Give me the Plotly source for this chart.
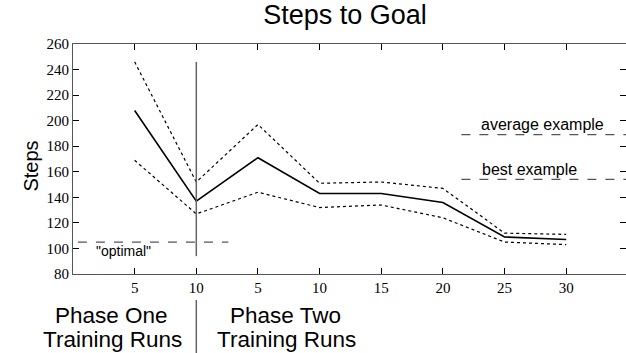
import plotly.graph_objects as go

tick_labels = ["5", "10", "5", "10", "15", "20", "25", "30"]
mean_steps = [208, 137, 171, 143, 143, 136, 109, 107]
upper_steps = [246, 152, 197, 151, 152, 147, 112, 111]
lower_steps = [169, 127, 144, 132, 134, 124, 105, 103]
optimal = 105
average_example = 189
best_example = 154

positions = list(range(1, len(tick_labels) + 1))

fig = go.Figure()
fig.add_trace(go.Scatter(x=positions, y=upper_steps, mode="lines",
                         line=dict(color="black", width=1.2, dash="dot"), hoverinfo="skip"))
fig.add_trace(go.Scatter(x=positions, y=lower_steps, mode="lines",
                         line=dict(color="black", width=1.2, dash="dot"), hoverinfo="skip"))
fig.add_trace(go.Scatter(x=positions, y=mean_steps, mode="lines",
                         line=dict(color="black", width=1.6)))

# reference lines
fig.add_trace(go.Scatter(x=[0.08, 2.52], y=[optimal, optimal], mode="lines",
                         line=dict(color="#555555", width=1.2, dash="dash")))
fig.add_trace(go.Scatter(x=[6.3, 9], y=[average_example, average_example], mode="lines",
                         line=dict(color="#555555", width=1.2, dash="dash")))
fig.add_trace(go.Scatter(x=[6.3, 9], y=[best_example, best_example], mode="lines",
                         line=dict(color="#555555", width=1.2, dash="dash")))
# phase separator inside plot
fig.add_trace(go.Scatter(x=[2, 2], y=[94, 246], mode="lines",
                         line=dict(color="#666666", width=1.5)))

fig.add_shape(type="line", xref="x", yref="paper", x0=2, x1=2, y0=-0.113, y1=-0.36,
              line=dict(color="#666666", width=1.5))

sans = "Liberation Sans"
serif = "Liberation Serif"
fig.add_annotation(x=0.82, y=optimal, yshift=-9, text='"optimal"', showarrow=False,
                   font=dict(family=sans, size=14, color="black"))
fig.add_annotation(x=6.58, xanchor="left", y=average_example, yshift=10, text="average example",
                   showarrow=False, font=dict(family=sans, size=16, color="black"))
fig.add_annotation(x=6.6, xanchor="left", y=best_example, yshift=10, text="best example",
                   showarrow=False, font=dict(family=sans, size=16, color="black"))

phase_font = dict(family=sans, size=22.5, color="black")
fig.add_annotation(x=0.62, xref="x", y=-0.18, yref="paper", yanchor="middle",
                   text="Phase One", showarrow=False, font=phase_font)
fig.add_annotation(x=0.64, xref="x", y=-0.285, yref="paper", yanchor="middle",
                   text="Training Runs", showarrow=False, font=phase_font)
fig.add_annotation(x=3.44, xref="x", y=-0.18, yref="paper", yanchor="middle",
                   text="Phase Two", showarrow=False, font=phase_font)
fig.add_annotation(x=3.47, xref="x", y=-0.285, yref="paper", yanchor="middle",
                   text="Training Runs", showarrow=False, font=phase_font)
fig.add_annotation(x=-0.1, xref="paper", y=0.47, yref="paper", textangle=-90,
                   text="Steps", showarrow=False, font=dict(family=sans, size=20, color="black"))

fig.update_layout(
    width=626, height=353,
    margin=dict(l=73, r=0, t=44, b=79, autoexpand=False),
    paper_bgcolor="white", plot_bgcolor="white",
    showlegend=False,
    title=dict(text="Steps to Goal", x=0.492, xref="paper", xanchor="center",
               y=1 - 15 / 353, yref="container", yanchor="middle",
               font=dict(family=sans, size=27, color="black")),
    xaxis=dict(range=[0, 8.97], tickvals=positions, ticktext=tick_labels, automargin=False,
               ticks="inside", ticklen=6, tickcolor="black", showgrid=False, zeroline=False,
               showline=True, linecolor="#555555", linewidth=1.2, mirror="ticks",
               tickfont=dict(family=serif, size=15, color="black")),
    yaxis=dict(range=[80, 260], tickvals=list(range(80, 261, 20)), automargin=False,
               ticks="inside", ticklen=6, tickcolor="black", showgrid=False, zeroline=False,
               showline=True, linecolor="#555555", linewidth=1.2, mirror="ticks",
               tickfont=dict(family=serif, size=15, color="black")),
)

fig.write_html("out.html", config={"displayModeBar": False},
               post_script="document.body.style.margin='0';")
